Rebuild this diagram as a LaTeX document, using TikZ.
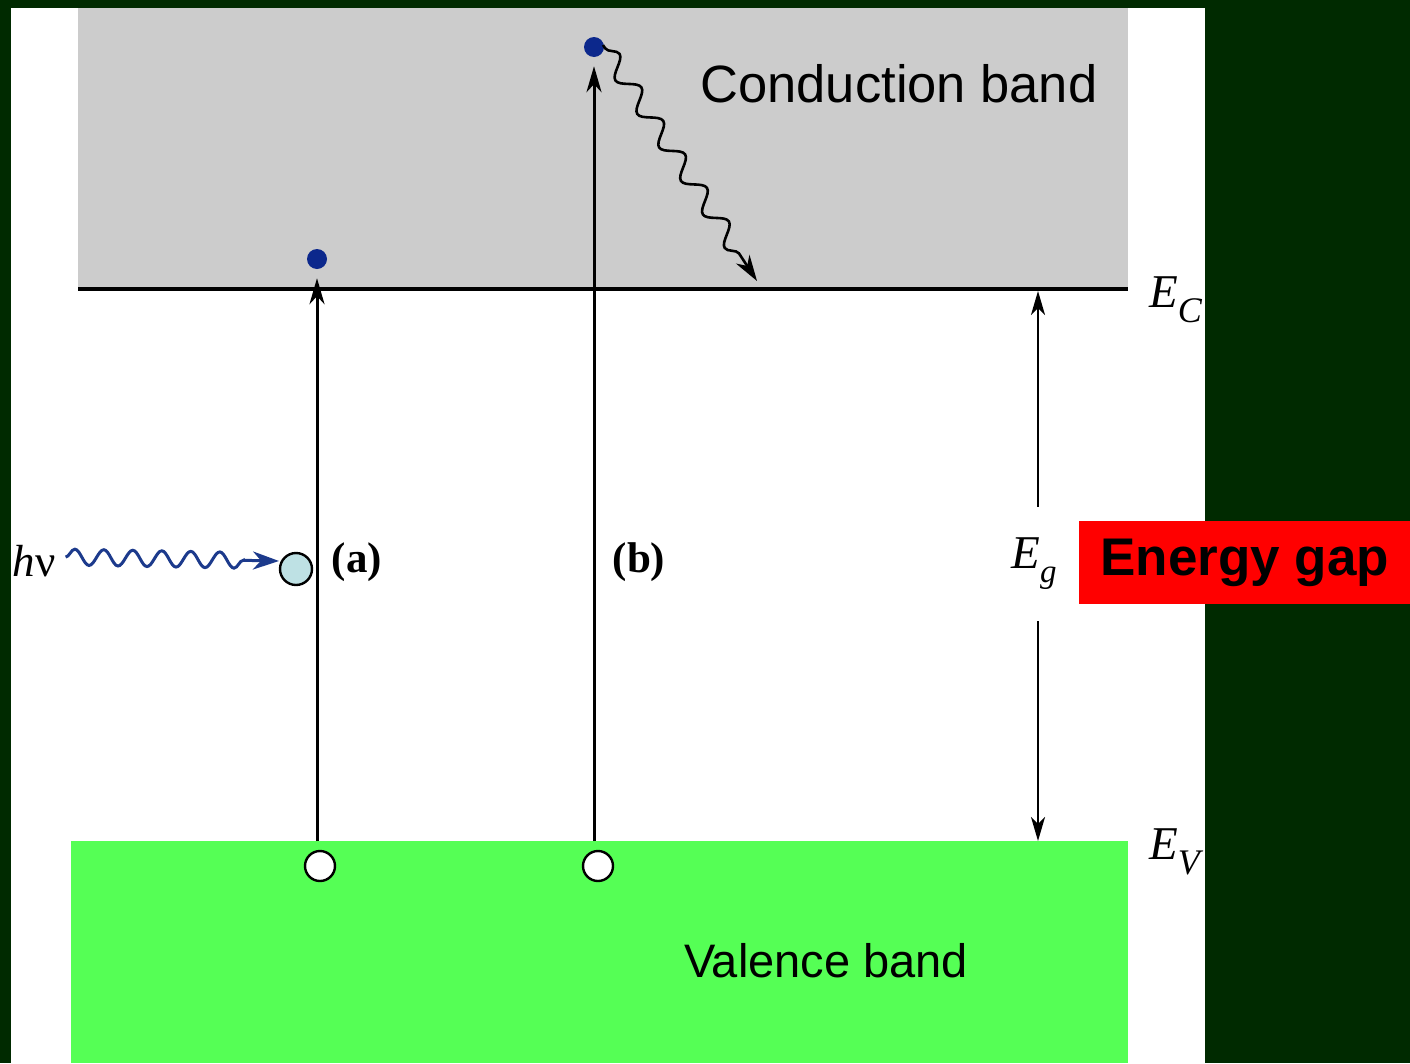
\documentclass[tikz,border=0pt]{standalone}
\usepackage{fontspec}
\setmainfont{Liberation Serif}
\newfontfamily\arialf{Liberation Sans}
\usetikzlibrary{arrows.meta,decorations.pathmorphing}
\definecolor{bgdark}{RGB}{0,42,0}
\definecolor{cbgray}{RGB}{204,204,204}
\definecolor{vbgreen}{RGB}{85,255,85}
\definecolor{edot}{RGB}{12,40,140}
\definecolor{photon}{RGB}{28,58,140}
\definecolor{lightcyan}{RGB}{190,225,228}
\begin{document}
\begin{tikzpicture}[x=1pt,y=-1pt,
  dotE/.style={circle,fill=edot,inner sep=0pt,minimum size=20pt},
  hole/.style={circle,draw=black,line width=2.4pt,fill=white,inner sep=0pt,minimum size=30pt},
  pcirc/.style={circle,draw=black,line width=2.4pt,fill=lightcyan,inner sep=0pt,minimum size=32pt},
  vert/.style={line width=3pt,-{Stealth[length=26pt,width=15pt,inset=8pt]}},
  sanslab/.style={font=\arialf\fontsize{#1}{#1}\selectfont,inner sep=0pt,text=black},
  serlab/.style={font=\fontsize{42}{42}\selectfont,inner sep=0pt,text=black}]
\fill[bgdark] (0,0) rectangle (1410,1063);
\useasboundingbox (0,0) rectangle (1410,1063);
\fill[white] (11,8) rectangle (1205,1063);
\fill[cbgray] (78,8) rectangle (1128,289);
\fill[vbgreen] (71,841) rectangle (1128,1063);
\coordinate (ecl) at (78,289);
\coordinate (ecr) at (1128,289);
\draw[line width=3.2pt] (ecl) -- (ecr);

% electrons and holes
\node[dotE] (ea) at (317,259) {};
\node[dotE] (eb) at (594,47) {};
\node[hole] (ha) at (320,866) {};
\node[hole] (hb) at (598,866) {};
\node[pcirc] (pc) at (296,569) {};

\coordinate (a0) at (317,841);
\coordinate (b0) at (594,841);
\draw[vert,shorten >=9pt] (a0) -- (ea.south);
\draw[vert,shorten >=9pt] (b0) -- (eb.south);

% labels (a) (b)
\node[serlab,font=\bfseries\fontsize{43}{43}\selectfont] (la) at (357,562) {(a)};
\node[serlab,font=\bfseries\fontsize{43}{43}\selectfont] (lb) at (639,562) {(b)};

% photon
\node[serlab,font=\fontsize{45}{45}\selectfont] (hv) at (34,561) {\textit{h}ν};
\coordinate (hvend) at (279,561);
\draw[photon,line width=3pt,-{Stealth[length=26pt,width=18pt,inset=8pt]},
  decorate,decoration={snake,amplitude=8pt,segment length=29pt,post length=22pt}]
  (hv.east) ++(10,-4) -- (hvend);

% phonon emission
\coordinate (phstart) at (603,45);
\coordinate (phend) at (757,281);
\draw[black,line width=2.6pt,-{Stealth[length=26pt,width=16pt,inset=8pt]},
  decorate,decoration={snake,amplitude=9pt,segment length=40pt,pre length=4pt,post length=22pt}]
  (phstart) -- (phend);

% energy gap
\coordinate (egtop) at (1038,291);
\coordinate (egbot) at (1038,841);
\node[serlab,font=\fontsize{47}{47}\selectfont,minimum height=114pt] (Eg) at (1034,564)
  {\textit{E}\raisebox{-0.3em}{\fontsize{33}{33}\selectfont\textit{g}}};
\draw[line width=2.6pt,-{Stealth[length=24pt,width=14pt,inset=7pt]}] (Eg.north -| egtop) -- (egtop);
\draw[line width=2.6pt,-{Stealth[length=24pt,width=14pt,inset=7pt]}] (Eg.south -| egbot) -- (egbot);

\node[serlab,font=\fontsize{47}{47}\selectfont,anchor=west] (EC) at (1149,300)
  {\textit{E}\raisebox{-0.32em}{\fontsize{36}{36}\selectfont\textit{C}}};
\node[serlab,font=\fontsize{47}{47}\selectfont,anchor=west] (EV) at (1149,852)
  {\textit{E}\raisebox{-0.32em}{\fontsize{36}{36}\selectfont\textit{V}}};

% band names
\node[sanslab=52.5] (cb) at (899,84) {Conduction band};
\node[sanslab=47] (vb) at (826,961) {Valence band};

% energy gap box
\node[fill=red,minimum width=331pt,minimum height=83pt,inner sep=0pt,anchor=north west,
  font=\arialf\bfseries\fontsize{53}{53}\selectfont] (gap) at (1079,521) {Energy gap};
\end{tikzpicture}
\end{document}
